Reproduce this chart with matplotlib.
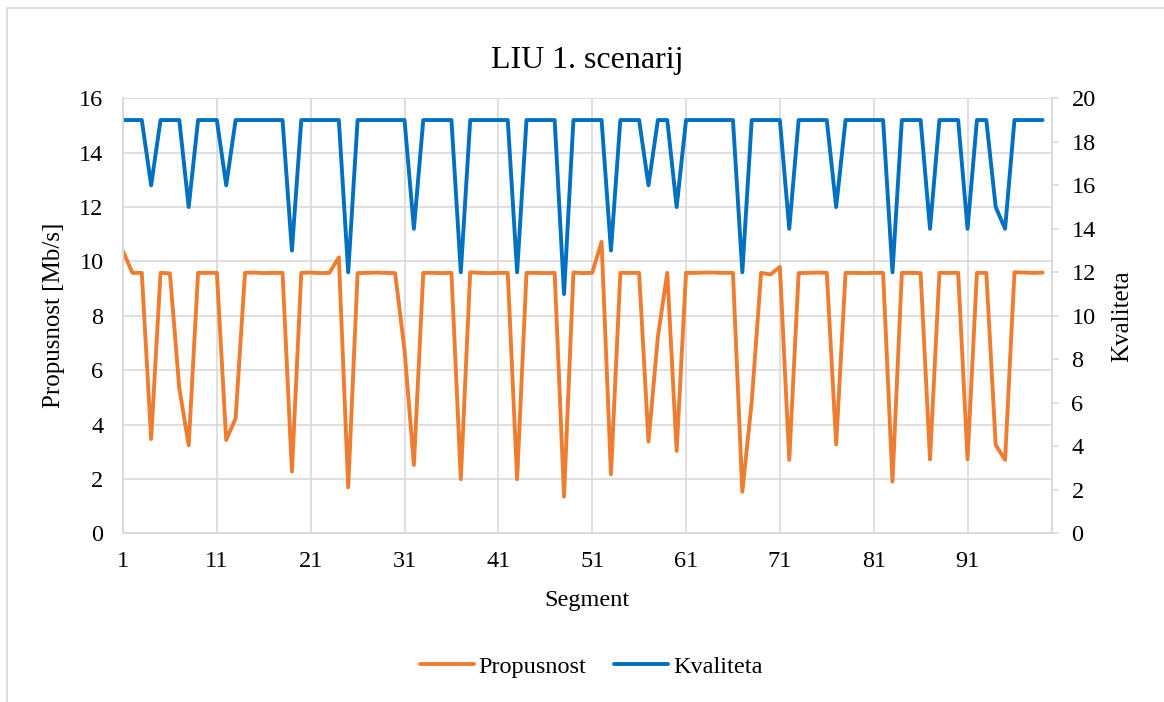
import matplotlib
matplotlib.use("Agg")
import matplotlib.pyplot as plt
from matplotlib.patches import Rectangle

plt.rcParams['font.family'] = ['Liberation Serif', 'DejaVu Serif']

# Podaci po segmentima
segmenti = list(range(1, 100))

propusnost = [
    10.38, 9.58, 9.58, 3.47, 9.58, 9.56, 5.33, 3.24, 9.58, 9.58,
    9.58, 3.43, 4.23, 9.58, 9.59, 9.57, 9.58, 9.58, 2.27, 9.58,
    9.59, 9.57, 9.58, 10.15, 1.69, 9.57, 9.58, 9.59, 9.58, 9.57,
    6.74, 2.51, 9.58, 9.58, 9.57, 9.58, 1.99, 9.60, 9.58, 9.57,
    9.58, 9.58, 1.99, 9.58, 9.58, 9.57, 9.58, 1.35, 9.59, 9.57,
    9.58, 10.72, 2.17, 9.58, 9.58, 9.58, 3.37, 7.23, 9.58, 3.03,
    9.58, 9.58, 9.59, 9.59, 9.58, 9.58, 1.53, 4.84, 9.58, 9.52,
    9.80, 2.70, 9.57, 9.58, 9.59, 9.58, 3.27, 9.58, 9.58, 9.57,
    9.58, 9.58, 1.90, 9.58, 9.58, 9.57, 2.72, 9.58, 9.58, 9.58,
    2.72, 9.58, 9.58, 3.25, 2.70, 9.60, 9.59, 9.58, 9.59,
]

kvaliteta = [
    19, 19, 19, 16, 19, 19, 19, 15, 19, 19,
    19, 16, 19, 19, 19, 19, 19, 19, 13, 19,
    19, 19, 19, 19, 12, 19, 19, 19, 19, 19,
    19, 14, 19, 19, 19, 19, 12, 19, 19, 19,
    19, 19, 12, 19, 19, 19, 19, 11, 19, 19,
    19, 19, 13, 19, 19, 19, 16, 19, 19, 15,
    19, 19, 19, 19, 19, 19, 12, 19, 19, 19,
    19, 14, 19, 19, 19, 19, 15, 19, 19, 19,
    19, 19, 12, 19, 19, 19, 14, 19, 19, 19,
    14, 19, 19, 15, 14, 19, 19, 19, 19,
]

x_oznake = [1, 11, 21, 31, 41, 51, 61, 71, 81, 91]

narancasta = '#ED7D31'
plava = '#0070C0'
siva = '#D9D9D9'

fig = plt.figure(figsize=(11.64, 7.02), dpi=100)
ax = fig.add_axes([123 / 1164, 1 - 533.3 / 702, (1052 - 123) / 1164, (533.3 - 98.3) / 702])
ax2 = ax.twinx()

l1, = ax.plot(segmenti, propusnost, color=narancasta, lw=2.8, label='Propusnost',
              solid_joinstyle='round', solid_capstyle='round')
l2, = ax2.plot(segmenti, kvaliteta, color=plava, lw=2.8, label='Kvaliteta',
               solid_joinstyle='round', solid_capstyle='round')

ax.set_xlim(1, 100)
ax.set_ylim(0, 16)
ax2.set_ylim(0, 20)
ax.set_xticks(x_oznake)
ax.set_yticks(range(0, 17, 2))
ax2.set_yticks(range(0, 21, 2))

ax.grid(True, color=siva, lw=1.2)
ax.set_axisbelow(True)

for a in (ax, ax2):
    for s in a.spines.values():
        s.set_color(siva)
        s.set_linewidth(1.2)
    a.spines['top'].set_visible(False)

ax.tick_params(axis='both', length=0, labelsize=17.5, pad=14)
ax.tick_params(axis='x', pad=13)
ax2.tick_params(axis='y', length=5, width=1.2, color=siva, labelsize=17.5, pad=9)

ax.set_xlabel('Segment', fontsize=17.5, labelpad=13)
ax.set_ylabel('Propusnost [Mb/s]', fontsize=18, labelpad=10)
ax2.set_ylabel('Kvaliteta', fontsize=18, labelpad=11)
ax.set_title('LIU 1. scenarij', fontsize=23, pad=22)

fig.legend(handles=[l1, l2], loc='center', bbox_to_anchor=(0.508, 0.05), ncol=2,
           frameon=False, fontsize=17.5, handlelength=2.2, columnspacing=1.15,
           handletextpad=0.2)

fig.add_artist(Rectangle((7 / 1164, -0.1), 1.2, 1.1 - 8 / 702, transform=fig.transFigure,
                         fill=False, ec=siva, lw=1.2))

fig.savefig('out.png', dpi=100)
